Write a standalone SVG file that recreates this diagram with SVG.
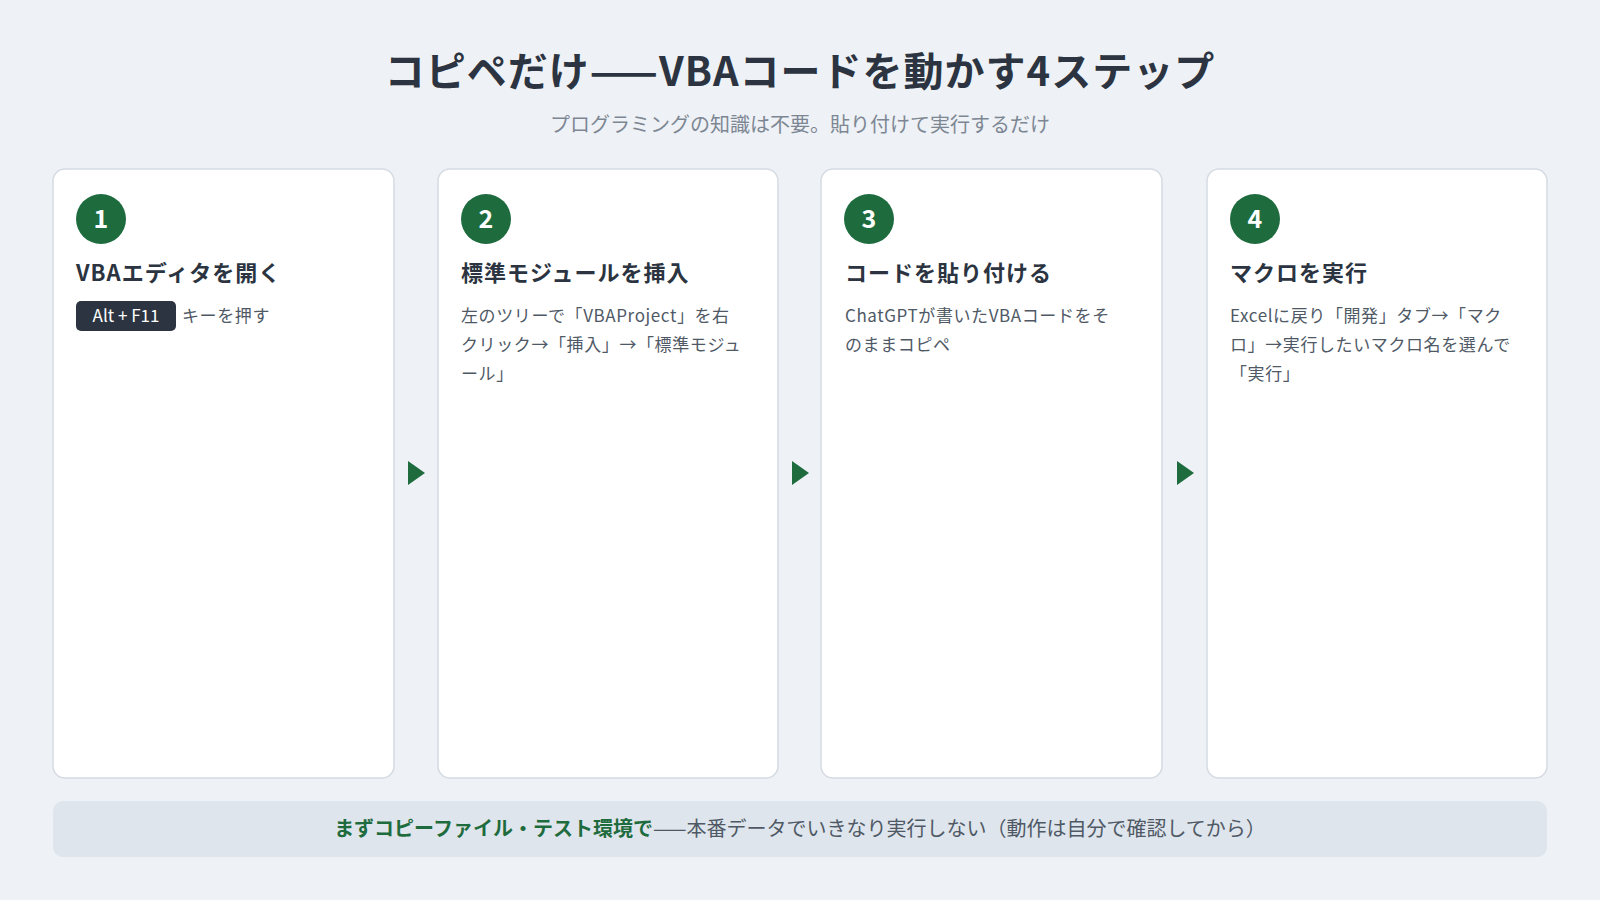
<svg xmlns="http://www.w3.org/2000/svg" width="1600" height="900" viewBox="0 0 1600 900">
<style>
text{font-family:"Noto Sans CJK JP","Noto Sans",sans-serif}
.card{fill:#fff;stroke:#d5dbe3;stroke-width:1.5}
.num{fill:#1e6b3e}
.numt{fill:#fff;font-size:25px;font-weight:700;text-anchor:middle}
.h{fill:#2b3440;font-size:22px;font-weight:700;letter-spacing:1px}
.d{fill:#4f5966;font-size:17px;letter-spacing:0.6px}
.arr{fill:#1e6b3e}
</style>
<rect width="1600" height="900" fill="#eef1f5"/>
<text x="800" y="86" text-anchor="middle" font-size="40" font-weight="700" fill="#2b3440" letter-spacing="1">コピペだけ——VBAコードを動かす4ステップ</text>
<text x="800" y="132" text-anchor="middle" font-size="20" fill="#7d8794">プログラミングの知識は不要。貼り付けて実行するだけ</text>
<g id="step1">
<rect class="card" x="53" y="169" width="341" height="609" rx="12"/>
<circle class="num" cx="101" cy="219" r="25"/><text class="numt" x="101" y="228">1</text>
<text class="h" x="76" y="281">VBAエディタを開く</text>
<rect x="76" y="301" width="100" height="30" rx="5" fill="#2b3440"/>
<text x="126" y="322" text-anchor="middle" font-size="17" fill="#fff">Alt + F11</text>
<text class="d" x="182" y="322">キーを押す</text>
</g>
<g id="step2">
<rect class="card" x="438" y="169" width="340" height="609" rx="12"/>
<circle class="num" cx="486" cy="219" r="25"/><text class="numt" x="486" y="228">2</text>
<text class="h" x="461" y="281">標準モジュールを挿入</text>
<text class="d" x="461" y="322">左のツリーで「VBAProject」を右</text>
<text class="d" x="461" y="351">クリック→「挿入」→「標準モジュ</text>
<text class="d" x="461" y="380">ール」</text>
</g>
<g id="step3">
<rect class="card" x="821" y="169" width="341" height="609" rx="12"/>
<circle class="num" cx="869" cy="219" r="25"/><text class="numt" x="869" y="228">3</text>
<text class="h" x="845" y="281">コードを貼り付ける</text>
<text class="d" x="845" y="322">ChatGPTが書いたVBAコードをそ</text>
<text class="d" x="845" y="351">のままコピペ</text>
</g>
<g id="step4">
<rect class="card" x="1207" y="169" width="340" height="609" rx="12"/>
<circle class="num" cx="1255" cy="219" r="25"/><text class="numt" x="1255" y="228">4</text>
<text class="h" x="1230" y="281">マクロを実行</text>
<text class="d" x="1230" y="322">Excelに戻り「開発」タブ→「マク</text>
<text class="d" x="1230" y="351">ロ」→実行したいマクロ名を選んで</text>
<text class="d" x="1230" y="380">「実行」</text>
</g>
<g id="connectors">
<polygon class="arr" points="408,461 425,473 408,485"/>
<polygon class="arr" points="792,461 809,473 792,485"/>
<polygon class="arr" points="1177,461 1194,473 1177,485"/>
</g>
<g id="footer">
<rect x="53" y="801" width="1494" height="56" rx="10" fill="#dfe5ec"/>
<text x="800" y="836" text-anchor="middle" font-size="20" fill="#4f5966"><tspan fill="#1e6b3e" font-weight="700">まずコピーファイル・テスト環境で</tspan>——本番データでいきなり実行しない（動作は自分で確認してから）</text>
</g>
</svg>
